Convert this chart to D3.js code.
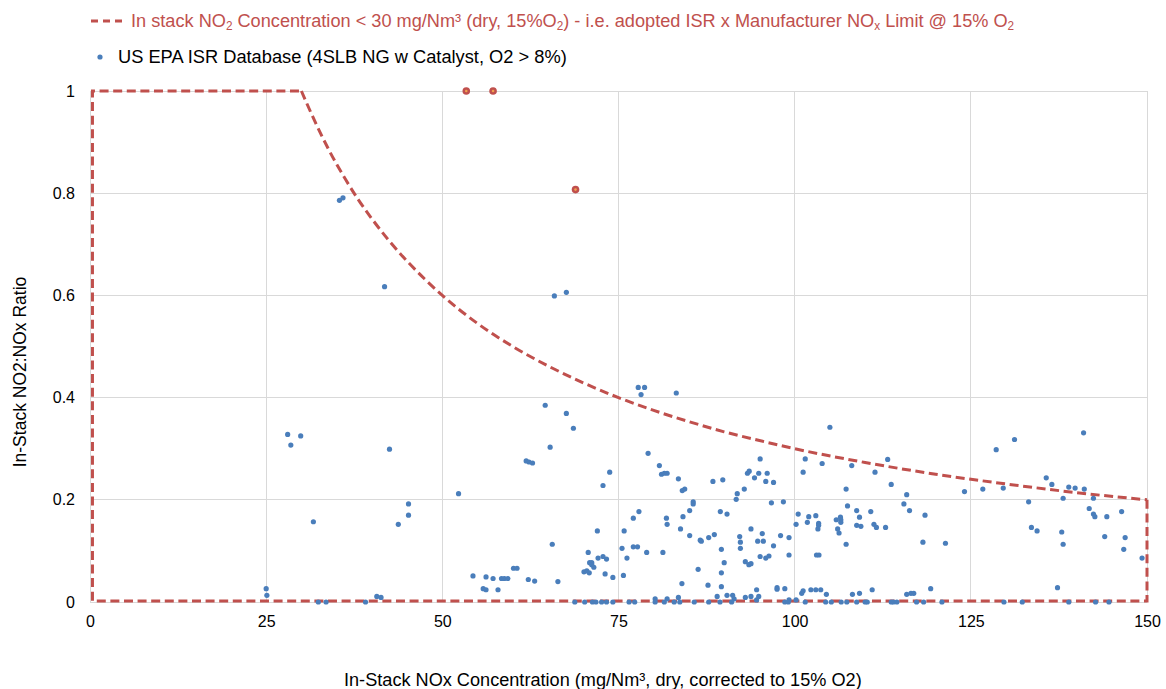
<!DOCTYPE html>
<html><head><meta charset="utf-8">
<script src="https://cdn.jsdelivr.net/npm/d3@7"></script>
<style>
html,body{margin:0;padding:0;background:#fff;}
text{font-family:"Liberation Sans",Arial,sans-serif;}
</style></head>
<body><svg id="chart" width="1166" height="689"></svg>
<script>
// ---- data ----
const epaNOx = [
35.4,35.9,41.8,28.05,29.9,28.5,42.5,52.3,61.9,62.3,62.8,65.3,31.7,45.2,45.2,43.75,
25.0,25.1,32.4,33.5,39.1,40.7,41.3,54.35,55.8,56.2,56.2,57.2,57.9,58.4,58.8,59.3,60.1,60.6,62.2,63.1,
65.9,67.6,64.6,67.6,68.6,
77.8,78.7,78.2,79.2,73.75,72.8,65.6,66.4,72.0,77.1,77.9,75.8,75.5,77.1,77.7,76.2,79.0,70.7,70.9,71.2,71.2,71.5,72.1,72.8,73.3,70.1,70.5,70.85,73.1,74.2,75.7,
68.8,70.2,71.3,71.8,72.6,73.3,74.2,76.5,77.3,
83.2,80.8,81.1,81.5,81.9,83.5,84.05,84.4,88.4,89.8,85.6,85.6,85.1,84.15,81.8,81.9,83.8,85.1,86.6,86.75,87.8,88.6,89.45,90.4,91.7,91.85,92.85,93.3,93.55,92.2,92.3,92.3,93.0,93.5,81.3,89.6,90.0,89.6,86.3,84.0,87.7,89.6,89.0,90.4,91.2,91.4,93.0,80.2,81.9,83.5,
80.2,81.5,82.9,83.7,85.75,87.8,89.4,91.05,
105.0,95.1,94.3,94.9,96.1,95.9,97.0,101.5,101.2,103.9,107.3,96.7,98.4,107.5,100.5,100.2,102.0,101.8,103.0,103.4,103.4,103.3,105.9,106.5,106.55,106.55,106.1,106.3,107.3,93.8,95.4,94.75,95.55,97.0,98.0,99.2,99.2,103.1,103.45,95.1,95.9,96.35,93.8,97.5,97.5,98.6,94.6,93.8,94.6,94.9,99.2,100.2,101.0,101.2,102.3,103.0,103.7,104.5,
98.6,99.1,101.5,104.4,105.2,106.6,107.4,
113.2,108.1,111.4,113.7,115.9,115.5,116.3,108.8,110.8,109.2,108.8,109.4,111.25,111.6,112.9,118.5,118.2,121.4,108.2,109.2,111.0,115.9,116.5,116.9,119.3,
108.8,110.0,110.3,113.7,114.0,114.5,117.3,118.3,120.9,
131.2,128.6,124.1,126.7,129.6,135.7,133.2,133.6,134.4,
129.7,132.3,
141.0,136.5,138.9,139.8,141.1,138.1,142.4,141.8,142.4,142.6,144.3,146.4,137.9,138.1,144.0,146.9,146.7,149.3,137.3,
138.9,142.7,144.6
];
const epaRatio = [
0.786,0.791,0.617,0.328,0.325,0.307,0.299,0.212,0.276,0.274,0.272,0.303,0.157,0.192,0.170,0.152,
0.026,0.013,0,0,0,0.011,0.009,0.051,0.026,0.024,0.049,0.046,0.024,0.046,0.046,0.046,0.066,0.066,0.044,0.041,
0.599,0.606,0.385,0.369,0.340,
0.420,0.420,0.406,0.291,0.254,0.228,0.113,0.040,0.139,0.164,0.177,0.139,0.105,0.108,0.108,0.086,0.097,0.097,0.077,0.077,0.073,0.068,0.086,0.089,0.084,0.059,0.061,0.057,0.055,0.048,0.052,
0,0,0,0,0,0,0,0,0,
0.409,0.267,0.250,0.252,0.252,0.241,0.218,0.221,0.236,0.239,0.196,0.192,0.179,0.167,0.164,0.152,0.143,0.130,0.121,0.119,0.126,0.132,0.177,0.172,0.201,0.212,0.221,0.252,0.256,0.128,0.117,0.105,0.079,0.073,0.097,0.103,0.077,0.057,0.064,0.036,0.033,0.030,0.011,0.013,0.013,0.006,0.009,0.006,0.006,0.009,
0,0,0,0,0,0,0,0,
0.342,0.280,0.243,0.252,0.252,0.236,0.234,0.280,0.254,0.271,0.221,0.194,0.196,0.188,0.172,0.152,0.167,0.156,0.169,0.154,0.150,0.143,0.161,0.166,0.161,0.156,0.143,0.135,0.113,0.143,0.134,0.119,0.119,0.110,0.130,0.126,0.092,0.092,0.092,0.089,0.086,0.090,0.075,0.028,0.025,0.026,0.024,0.011,0.004,0.011,0.004,0.004,0.017,0.022,0.024,0.024,0.024,0.015,
0,0,0,0,0,0,0,
0.279,0.267,0.254,0.230,0.210,0.192,0.179,0.179,0.177,0.166,0.150,0.148,0.152,0.146,0.146,0.170,0.117,0.115,0.015,0.017,0.024,0.015,0.017,0.017,0.026,
0,0,0,0,0,0,0,0,0,
0.318,0.298,0.216,0.221,0.223,0.243,0.196,0.146,0.139,
0,0,
0.331,0.230,0.225,0.223,0.221,0.203,0.203,0.183,0.172,0.167,0.167,0.177,0.137,0.113,0.128,0.126,0.103,0.086,0.028,
0,0,0
];
// highlighted points (red markers)
const flaggedNOx = [53.4, 57.2, 68.9];
const flaggedRatio = [1.0, 1.0, 0.807];

// limit boundary: NO2 < 30 mg/Nm3
const limitCurveNOx = [30,32,34,36,38,40,42.5,45,47.5,50,55,60,65,70,75,80,85,90,95,100,110,120,130,140,150];
const limitCurveRatio = [1,0.938,0.882,0.833,0.789,0.75,0.706,0.667,0.632,0.6,0.545,0.5,0.462,0.429,0.4,0.375,0.353,0.333,0.316,0.3,0.273,0.25,0.231,0.214,0.2];
const limitEdgeNOx = [150, 150, 0.35, 0.35, 30];
const limitEdgeRatio = [0.2, 0.002, 0.002, 1, 1];

const xTicks = [0,25,50,75,100,125,150];
const yTicks = [0,0.2,0.4,0.6,0.8,1];
const yTickLabels = ["0","0.2","0.4","0.6","0.8","1"];

const legendLimitText = ["In stack NO","2"," Concentration < 30 mg/Nm³ (dry, 15%O","2",") - i.e. adopted ISR x Manufacturer  NO","x"," Limit @ 15% O","2"];
const legendEpaText = "US EPA ISR Database (4SLB NG w Catalyst, O2 > 8%)";
const xTitle = "In-Stack NOx Concentration (mg/Nm³, dry, corrected to 15% O2)";
const yTitle = "In-Stack NO2:NOx Ratio";

// ---- drawing ----
const svg = d3.select("#chart");
const L = 90, R = 1147, T = 91, B = 602;
const red = "#c0504d", blue = "#4a7ebb", grid = "#d9d9d9";
const x = d3.scaleLinear().domain([0,150]).range([L,R]);
const y = d3.scaleLinear().domain([0,1]).range([B,T]);

svg.append("rect").attr("width",1166).attr("height",689).attr("fill","#fff");

// fit a text element horizontally into [x0, x0+w]
function fitText(sel, x0, w){
  const bw = sel.node().getBBox().width;
  sel.attr("x",0).attr("transform",`translate(${x0},0) scale(${w/bw},1)`);
}

// gridlines
const g = svg.append("g");
g.selectAll("line.v").data(xTicks).join("line").attr("class","v")
  .attr("x1",d=>x(d)).attr("x2",d=>x(d)).attr("y1",T).attr("y2",B)
  .attr("stroke",grid).attr("stroke-width",1).attr("shape-rendering","crispEdges");
g.selectAll("line.h").data(yTicks).join("line").attr("class","h")
  .attr("x1",L).attr("x2",R).attr("y1",d=>y(d)).attr("y2",d=>y(d))
  .attr("stroke",grid).attr("stroke-width",1).attr("shape-rendering","crispEdges");

// axes via d3 axes
const xAxis = svg.append("g").attr("transform",`translate(0,${B})`)
  .call(d3.axisBottom(x).tickValues(xTicks).tickSize(0).tickPadding(14));
xAxis.select(".domain").remove();
xAxis.selectAll("text").attr("font-size",16).attr("fill","#000").style("font-family","'Liberation Sans',Arial,sans-serif");
const yAxis = svg.append("g").attr("transform",`translate(${L},0)`)
  .call(d3.axisLeft(y).tickValues(yTicks).tickSize(0).tickPadding(15).tickFormat((d,i)=>yTickLabels[i]));
yAxis.select(".domain").remove();
yAxis.selectAll("text").attr("font-size",16).attr("fill","#000").style("font-family","'Liberation Sans',Arial,sans-serif");

// limit boundary
const dash = "9,4.6";
const lineLin = d3.line().x(d=>x(d[0])).y(d=>y(d[1]));
const lineCurve = d3.line().x(d=>x(d[0])).y(d=>y(d[1])).curve(d3.curveMonotoneX);
svg.append("path").attr("d", lineLin(limitEdgeNOx.map((v,i)=>[v,limitEdgeRatio[i]])))
  .attr("fill","none").attr("stroke",red).attr("stroke-width",3).attr("stroke-dasharray",dash);
svg.append("path").attr("d", lineCurve(limitCurveNOx.map((v,i)=>[v,limitCurveRatio[i]])))
  .attr("fill","none").attr("stroke",red).attr("stroke-width",3).attr("stroke-dasharray",dash);

// EPA points
svg.append("g").selectAll("circle").data(epaNOx.map((v,i)=>[v,epaRatio[i]])).join("circle")
  .attr("cx",d=>x(d[0])).attr("cy",d=>y(d[1])).attr("r",2.6).attr("fill",blue);

// flagged points
const fg = svg.append("g").selectAll("g").data(flaggedNOx.map((v,i)=>[v,flaggedRatio[i]])).join("g")
  .attr("transform",d=>`translate(${x(d[0])},${y(d[1])})`);
fg.append("circle").attr("r",3.8).attr("fill",red);
fg.append("circle").attr("r",1.3).attr("fill","#f0a050");

// legend
svg.append("line").attr("x1",91).attr("x2",122).attr("y1",21).attr("y2",21)
  .attr("stroke",red).attr("stroke-width",3).attr("stroke-dasharray","7,5");
const lt = svg.append("text").attr("y",27).attr("font-size",18.5).attr("fill",red);
legendLimitText.forEach((s,i)=>{
  const sub = i%2===1;
  lt.append("tspan").text(s).attr("font-size",sub?12:18.5).attr("dy",sub?3:(i>0?-3:0));
});
fitText(lt,131,884);
svg.append("circle").attr("cx",100).attr("cy",57).attr("r",2.6).attr("fill",blue);
const l2 = svg.append("text").attr("y",63).attr("font-size",18.5).attr("fill","#000").text(legendEpaText);
fitText(l2,118,449);

// axis titles
const xt = svg.append("text").attr("y",686).attr("font-size",18.5).attr("fill","#000").text(xTitle);
fitText(xt,344,518);
svg.append("text").attr("transform","translate(26,372) rotate(-90)").attr("text-anchor","middle").attr("font-size",17.5).attr("fill","#000").text(yTitle);
</script></body></html>
